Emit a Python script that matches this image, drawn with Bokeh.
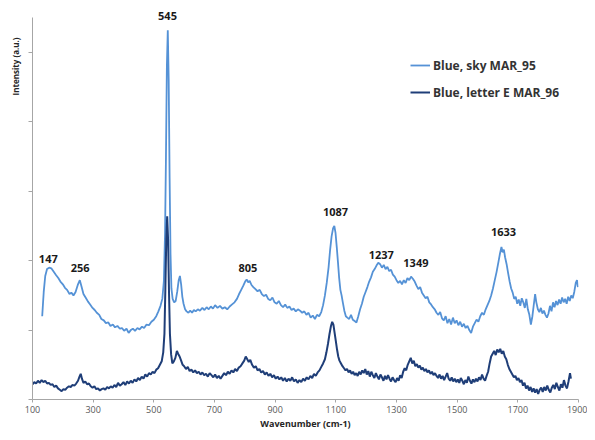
import math
from bokeh.plotting import figure
from bokeh.models import Range1d, FixedTicker, Legend, LegendItem, Title
from bokeh.core.properties import value
from bokeh.embed import file_html
from bokeh.resources import INLINE

# ---- data ----
sky_x = [132,137,142,148,155,162,170,178,185,192,200,207,214,222,228,235,242,250,256,262,268,275,283,290,298,305,312,320,327,335,342,350,357,365,372,380,388,395,402,410,417,424,431,438,446,453,461,468,476,484,492,500,508,515,522,528,533,537,540,543,546,549,552,555,558,562,567,572,577,582,586,590,594,598,603,608,614,620,626,632,638,645,652,660,667,674,681,688,695,702,710,718,726,734,742,750,758,766,774,781,788,795,801,806,811,816,822,828,835,842,849,856,863,870,877,884,891,898,905,912,919,926,933,940,947,954,961,968,975,982,989,996,1003,1010,1017,1024,1031,1038,1045,1052,1058,1064,1070,1076,1081,1086,1091,1095,1099,1103,1107,1111,1115,1119,1123,1128,1133,1138,1144,1150,1156,1162,1168,1174,1180,1186,1192,1198,1204,1210,1216,1222,1228,1234,1240,1246,1252,1258,1264,1270,1276,1282,1288,1294,1300,1306,1312,1318,1324,1330,1336,1342,1348,1354,1360,1366,1372,1378,1384,1390,1396,1402,1408,1414,1420,1426,1432,1438,1444,1450,1456,1462,1468,1474,1480,1486,1492,1498,1504,1510,1516,1522,1528,1534,1540,1546,1552,1558,1564,1570,1576,1582,1588,1594,1600,1606,1612,1618,1624,1630,1636,1641,1646,1650,1654,1658,1663,1668,1673,1678,1683,1688,1693,1698,1703,1708,1713,1718,1723,1728,1733,1738,1743,1748,1753,1757,1761,1766,1771,1776,1781,1786,1791,1796,1801,1806,1811,1816,1821,1826,1831,1836,1841,1846,1851,1856,1861,1866,1871,1876,1881,1886,1891,1895,1898]
sky_y = [1.20,1.55,1.78,1.88,1.90,1.89,1.84,1.79,1.75,1.70,1.66,1.61,1.58,1.52,1.54,1.50,1.55,1.66,1.72,1.62,1.52,1.47,1.41,1.37,1.32,1.29,1.25,1.22,1.16,1.14,1.10,1.11,1.06,1.08,1.04,1.06,1.02,1.03,0.99,1.02,0.96,1.00,1.02,0.99,1.03,1.01,1.05,1.03,1.08,1.07,1.12,1.15,1.20,1.27,1.35,1.45,1.70,2.40,3.50,4.80,5.32,4.60,3.20,2.10,1.60,1.45,1.40,1.42,1.55,1.72,1.78,1.66,1.48,1.38,1.30,1.27,1.25,1.28,1.25,1.29,1.27,1.30,1.28,1.32,1.29,1.33,1.30,1.34,1.31,1.36,1.32,1.35,1.31,1.33,1.30,1.34,1.37,1.40,1.45,1.52,1.58,1.64,1.70,1.73,1.69,1.71,1.65,1.62,1.59,1.56,1.58,1.52,1.49,1.51,1.45,1.43,1.47,1.40,1.38,1.42,1.36,1.33,1.37,1.32,1.34,1.29,1.31,1.27,1.30,1.28,1.25,1.27,1.22,1.25,1.18,1.21,1.16,1.22,1.20,1.26,1.36,1.50,1.68,1.90,2.15,2.35,2.47,2.50,2.40,2.20,1.98,1.75,1.58,1.50,1.40,1.28,1.20,1.18,1.16,1.22,1.15,1.13,1.11,1.20,1.30,1.38,1.48,1.55,1.62,1.70,1.76,1.84,1.88,1.93,1.97,1.95,1.90,1.94,1.88,1.91,1.85,1.87,1.80,1.77,1.72,1.68,1.71,1.66,1.72,1.68,1.75,1.72,1.77,1.74,1.70,1.64,1.59,1.62,1.54,1.50,1.46,1.48,1.40,1.37,1.33,1.30,1.25,1.22,1.26,1.17,1.14,1.20,1.10,1.16,1.08,1.18,1.10,1.14,1.07,1.12,1.05,1.09,1.03,1.06,1.00,0.96,1.05,1.10,1.15,1.12,1.20,1.25,1.22,1.30,1.36,1.42,1.50,1.60,1.72,1.84,1.98,2.10,2.20,2.12,2.16,2.05,1.95,1.82,1.70,1.60,1.54,1.45,1.48,1.38,1.44,1.35,1.46,1.40,1.32,1.45,1.30,1.22,1.08,1.20,1.38,1.52,1.40,1.30,1.26,1.32,1.24,1.28,1.22,1.18,1.24,1.35,1.27,1.40,1.33,1.42,1.36,1.44,1.38,1.47,1.40,1.45,1.38,1.48,1.42,1.50,1.46,1.55,1.68,1.72,1.62]

letter_x = [100,106,112,118,124,130,136,142,148,154,160,166,172,178,184,190,196,202,208,214,220,226,232,238,244,250,255,259,263,268,274,280,286,292,298,304,310,316,322,328,334,340,346,352,358,364,370,376,382,388,394,400,406,412,418,424,430,436,442,448,454,460,466,472,478,484,490,496,502,508,514,520,526,531,535,538,541,544,547,550,553,557,561,566,571,576,580,585,590,595,600,606,612,618,624,630,636,642,648,654,660,666,672,678,684,690,696,702,708,714,720,726,732,738,744,750,756,762,768,774,780,786,792,798,803,808,813,818,824,830,836,842,848,854,860,866,872,878,884,890,896,902,908,914,920,926,932,938,944,950,956,962,968,974,980,986,992,998,1004,1010,1016,1022,1028,1034,1040,1046,1052,1058,1064,1069,1074,1079,1084,1088,1092,1096,1100,1104,1108,1112,1117,1122,1127,1132,1137,1142,1147,1152,1157,1162,1167,1172,1177,1182,1187,1192,1197,1202,1207,1212,1217,1222,1227,1232,1237,1242,1247,1252,1257,1262,1267,1272,1277,1282,1287,1292,1297,1302,1307,1312,1317,1322,1327,1332,1337,1342,1347,1352,1357,1362,1367,1372,1377,1382,1387,1392,1397,1402,1407,1412,1417,1422,1427,1432,1437,1442,1447,1452,1457,1462,1467,1472,1477,1482,1487,1492,1497,1502,1507,1512,1517,1522,1527,1532,1537,1542,1547,1552,1557,1562,1567,1572,1577,1582,1587,1592,1597,1602,1607,1612,1617,1622,1627,1632,1637,1642,1647,1652,1657,1662,1667,1672,1677,1682,1687,1692,1697,1702,1707,1712,1717,1722,1727,1732,1737,1742,1747,1752,1757,1762,1767,1772,1777,1782,1787,1792,1797,1802,1807,1812,1817,1822,1827,1832,1837,1842,1847,1852,1857,1862,1867,1872,1875]
letter_y = [0.22,0.25,0.23,0.27,0.24,0.28,0.25,0.27,0.23,0.24,0.21,0.22,0.18,0.20,0.16,0.14,0.12,0.15,0.14,0.17,0.19,0.18,0.21,0.20,0.23,0.27,0.33,0.37,0.30,0.24,0.26,0.22,0.23,0.19,0.17,0.19,0.15,0.16,0.13,0.15,0.16,0.14,0.18,0.16,0.19,0.17,0.21,0.18,0.24,0.20,0.22,0.25,0.21,0.26,0.23,0.27,0.24,0.29,0.26,0.31,0.28,0.33,0.30,0.36,0.33,0.38,0.36,0.40,0.38,0.43,0.45,0.50,0.55,0.68,0.95,1.60,2.30,2.64,2.30,1.55,0.95,0.65,0.52,0.55,0.60,0.70,0.66,0.62,0.56,0.50,0.48,0.44,0.47,0.41,0.43,0.39,0.42,0.38,0.40,0.36,0.39,0.35,0.37,0.33,0.38,0.35,0.32,0.36,0.31,0.34,0.30,0.34,0.38,0.35,0.40,0.37,0.42,0.39,0.44,0.41,0.46,0.48,0.52,0.56,0.62,0.58,0.54,0.57,0.50,0.46,0.48,0.42,0.44,0.39,0.41,0.36,0.39,0.34,0.37,0.32,0.35,0.30,0.33,0.29,0.32,0.27,0.31,0.26,0.30,0.27,0.32,0.26,0.29,0.24,0.28,0.25,0.30,0.27,0.32,0.29,0.34,0.31,0.37,0.34,0.39,0.42,0.47,0.52,0.58,0.68,0.80,0.94,1.06,1.12,1.08,0.96,0.84,0.72,0.62,0.56,0.52,0.48,0.45,0.42,0.44,0.39,0.42,0.37,0.40,0.35,0.38,0.34,0.40,0.36,0.42,0.38,0.44,0.36,0.41,0.33,0.40,0.35,0.31,0.38,0.33,0.29,0.36,0.32,0.27,0.34,0.29,0.35,0.30,0.26,0.32,0.28,0.25,0.31,0.27,0.35,0.31,0.40,0.45,0.42,0.50,0.55,0.60,0.52,0.56,0.48,0.51,0.46,0.49,0.43,0.46,0.41,0.44,0.39,0.42,0.37,0.40,0.35,0.38,0.34,0.31,0.36,0.30,0.34,0.28,0.33,0.38,0.30,0.27,0.32,0.26,0.30,0.25,0.29,0.24,0.31,0.27,0.22,0.28,0.24,0.33,0.27,0.23,0.29,0.25,0.30,0.26,0.32,0.28,0.36,0.30,0.27,0.34,0.40,0.52,0.62,0.66,0.70,0.64,0.72,0.68,0.73,0.66,0.70,0.62,0.58,0.50,0.44,0.40,0.36,0.32,0.34,0.28,0.31,0.25,0.28,0.20,0.24,0.16,0.20,0.13,0.18,0.11,0.16,0.10,0.15,0.08,0.14,0.17,0.11,0.18,0.13,0.20,0.14,0.10,0.17,0.21,0.15,0.24,0.18,0.13,0.22,0.17,0.28,0.20,0.16,0.26,0.38,0.30]

peak_text = ["147", "256", "545", "805", "1087", "1237", "1349", "1633"]
peak_label_x = [152, 257, 545, 810, 1099, 1250, 1364, 1653]
peak_label_y = [2.03, 1.90, 5.53, 1.90, 2.70, 2.08, 1.97, 2.42]

x_ticks = [100, 300, 500, 700, 900, 1100, 1300, 1500, 1700, 1900]
y_ticks = [0, 1, 2, 3, 4, 5]

series_names = ["Blue, sky MAR_95", "Blue, letter E MAR_96"]
series_colors = ["#5592d6", "#1f3e78"]

# ---- figure ----
p = figure(width=587, height=432, output_backend="svg", toolbar_location=None,
           x_range=Range1d(100, 1900), y_range=Range1d(0, 5.75),
           min_border_left=32, min_border_right=9, min_border_top=0,
           min_border_bottom=26)
p.outline_line_color = None
p.xgrid.grid_line_color = None
p.ygrid.grid_line_color = None
p.background_fill_color = "white"
p.border_fill_color = "white"

r1 = p.line(sky_x, sky_y, line_color=series_colors[0], line_width=1.8)
r2 = p.line(letter_x, letter_y, line_color=series_colors[1], line_width=2.0)

p.text(x=peak_label_x, y=peak_label_y, text=peak_text,
       text_font=value("Open Sans"), text_font_style="bold",
       text_font_size="11px", text_color="#1a1a1a",
       text_align="center", text_baseline="middle")

axis_gray = "#a6a6a6"
xa = p.xaxis[0]
xa.ticker = FixedTicker(ticks=x_ticks)
xa.axis_line_color = axis_gray
xa.major_tick_line_color = axis_gray
xa.major_tick_out = 3
xa.major_tick_in = 0
xa.minor_tick_line_color = None
xa.major_label_text_font = "Open Sans"
xa.major_label_text_font_size = "9px"
xa.major_label_text_color = "#595959"
xa.major_label_standoff = 3
xa.axis_label = "Wavenumber (cm-1)"
xa.axis_label_text_font = "Open Sans"
xa.axis_label_text_font_style = "bold"
xa.axis_label_text_font_size = "9px"
xa.axis_label_text_color = "#262626"
xa.axis_label_standoff = 1

ya = p.yaxis[0]
ya.ticker = FixedTicker(ticks=y_ticks)
ya.bounds = (0, 5.5)
ya.axis_line_color = axis_gray
ya.major_tick_line_color = axis_gray
ya.major_tick_out = 4
ya.major_tick_in = 0
ya.minor_tick_line_color = None
ya.major_label_overrides = {t: "" for t in y_ticks}
ya.major_label_standoff = 0

ytitle = Title(text="Intensity (a.u.)", align="right", offset=37,
               text_font="Open Sans", text_font_style="bold",
               text_font_size="8px", text_color="#262626", standoff=15)
p.add_layout(ytitle, "left")

legend = Legend(items=[LegendItem(label=series_names[0], renderers=[r1]),
                       LegendItem(label=series_names[1], renderers=[r2])],
                location=(378, 297), padding=0, margin=0, spacing=7,
                glyph_width=20, glyph_height=20, label_height=20,
                label_standoff=3, border_line_color=None,
                background_fill_alpha=0,
                label_text_font="Open Sans", label_text_font_style="bold",
                label_text_font_size="12px", label_text_color="#333333")
p.add_layout(legend)

open("out.html", "w").write(file_html(p, INLINE))
